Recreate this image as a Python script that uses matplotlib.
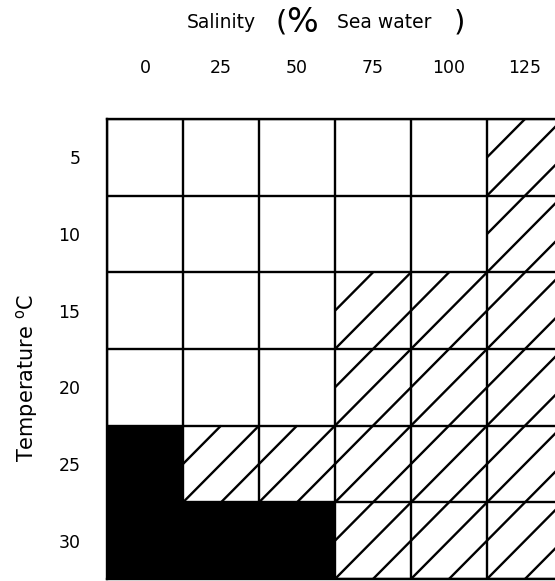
import matplotlib
matplotlib.use("Agg")
import matplotlib.pyplot as plt
from matplotlib.patches import Rectangle

plt.rcParams['font.family'] = ['DejaVu Sans']

# Salinity (% sea water) columns and temperature rows
salinity = ['0', '25', '50', '75', '100', '125']
temperature = ['5', '10', '15', '20', '25', '30']

# 0 = open (white), 1 = hatched, 2 = solid black
response = [
    [0, 0, 0, 0, 0, 1],
    [0, 0, 0, 0, 0, 1],
    [0, 0, 0, 1, 1, 1],
    [0, 0, 0, 1, 1, 1],
    [2, 1, 1, 1, 1, 1],
    [2, 2, 2, 1, 1, 1],
]

W, H = 555, 581
fig = plt.figure(figsize=(W / 100, H / 100), dpi=100)
# the grid runs off the right edge of the picture
ax = fig.add_axes([107 / W, 2 / H, 456 / W, 460 / H])

ncol, nrow = len(salinity), len(temperature)
lw = 1.7

for r, row in enumerate(response):
    for c, v in enumerate(row):
        if v == 2:
            ax.add_patch(Rectangle((c, r), 1, 1, facecolor='black', edgecolor='none'))
        elif v == 1:
            # "/" strokes, two per cell width, one through the corners
            for d in (0.5, 0.0, -0.5):
                u0, u1 = max(0.0, -d), min(1.0, 1.0 - d)
                ax.plot([c + u0, c + u1], [r + 1 - (u0 + d), r + 1 - (u1 + d)],
                        color='black', lw=lw, solid_capstyle='butt')

ax.hlines(range(nrow + 1), 0, ncol, color='black', lw=lw)
ax.vlines(range(ncol + 1), 0, nrow, color='black', lw=lw)

ax.set_xlim(0, ncol)
ax.set_ylim(nrow, 0)
for s in ax.spines.values():
    s.set_linewidth(lw)

ax.xaxis.tick_top()
ax.set_xticks([i + 0.5 for i in range(ncol)])
ax.set_xticklabels(salinity, fontsize=12.5)
ax.set_yticks([i + 0.5 for i in range(nrow)])
ax.set_yticklabels(temperature, fontsize=12.5)
ax.tick_params(axis='x', length=0, pad=30)
ax.tick_params(axis='y', length=0, pad=19)

# title pieces: "Salinity ( % Sea water )"
def fy(y):
    return 1 - y / H

fig.text(221 / W, fy(28), 'Salinity', fontsize=13.5, ha='center', va='baseline')
fig.text(281 / W, fy(30), '(', fontsize=21, ha='center', va='baseline')
fig.text(302 / W, fy(32), '%', fontsize=24, ha='center', va='baseline')
fig.text(384 / W, fy(28), 'Sea water', fontsize=13.5, ha='center', va='baseline')
fig.text(459 / W, fy(30), ')', fontsize=21, ha='center', va='baseline')

fig.text(27 / W, fy(378), 'Temperature $^{\\rm o}$C', fontsize=15,
         rotation=90, ha='center', va='center')

fig.savefig('out.png', dpi=100)
